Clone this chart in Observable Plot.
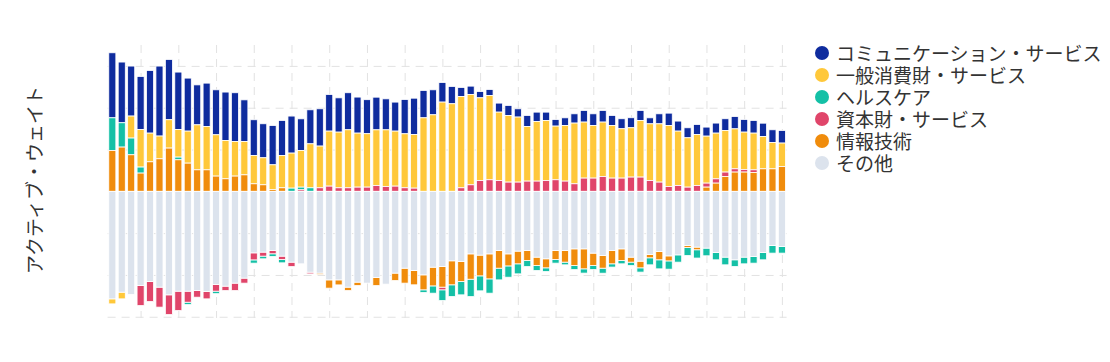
<!DOCTYPE html>
<html>
<head>
<meta charset="utf-8">
<script src="https://cdn.jsdelivr.net/npm/d3@7"></script>
<script src="https://cdn.jsdelivr.net/npm/@observablehq/plot@0.6"></script>
<style>
  html, body { margin: 0; padding: 0; background: #fff; }
  #wrap { position: relative; width: 1110px; height: 362px; font-family: "Noto Sans CJK JP", "Noto Sans", sans-serif; }
  #legend { position: absolute; left: 815px; top: 42px; font-size: 19px; line-height: 22px; color: #333; }
  .row { display: flex; align-items: center; height: 22px; line-height: 22px; white-space: nowrap; overflow: visible; }
  .sw { width: 14px; height: 14px; border-radius: 50%; margin-right: 7px; flex: none; }
  .lab { display: inline-block; height: 20px; line-height: 20px; overflow: visible; }
</style>
</head>
<body>
<div id="wrap"><div id="legend"></div></div>
<script>
// Series names (legend order) and colours
const sectors = ["コミュニケーション・サービス", "一般消費財・サービス", "ヘルスケア", "資本財・サービス", "情報技術", "その他"];
const colors  = ["#0f2c9e", "#ffc83a", "#14c0a6", "#e0456a", "#f08c0c", "#dce3ed"];
// stacking order from the zero line outward
const stackOrder = ["その他", "情報技術", "資本財・サービス", "ヘルスケア", "一般消費財・サービス", "コミュニケーション・サービス"];

// Active weights per period (72 monthly bars)
const comm = [7.78,7.26,5.98,6.34,7.49,8.37,7.21,6.87,6.34,4.78,5.19,5.38,5.79,5.83,4.99,4.27,4.07,4.70,4.19,4.43,
  3.79,4.07,4.46,4.38,4.10,4.43,4.31,4.07,3.91,3.71,3.47,4.10,4.35,3.27,2.99,2.34,2.07,1.08,1.00,0.75,
  0.72,1.08,1.20,0.99,1.32,1.12,1.00,0.79,0.92,1.11,1.39,1.40,1.39,1.20,1.20,1.20,1.20,0.72,1.20,1.48,
  1.20,1.20,1.20,1.08,1.20,1.40,1.47,1.51,1.51,1.60,1.52,1.51];
const consumer = [-0.60,-0.80,2.63,4.50,3.43,2.72,3.39,3.30,3.83,5.38,5.18,4.94,4.58,4.14,3.98,3.39,3.23,2.95,3.86,4.19,
  4.38,5.26,4.99,6.58,6.66,6.94,6.46,6.39,6.66,6.78,6.58,6.46,6.41,8.79,9.15,10.67,10.47,10.92,10.80,9.89,
  10.08,8.18,7.97,7.78,6.53,7.13,7.18,6.42,6.65,7.26,6.70,6.29,6.51,6.29,5.90,5.90,6.77,6.78,6.97,7.30,
  6.51,5.90,6.10,5.62,5.47,4.98,4.78,4.47,4.39,3.86,3.15,2.80];
const health = [3.91,2.91,2.00,0.72,0,0,0,0.32,-0.29,0,0,-0.30,0,0,0,-0.39,-0.32,-0.32,-0.39,0.38,
  0.32,0.42,0,0,0,0,0,0,0,0,0,0,0,-0.32,-0.87,-1.28,-1.40,-1.59,-2.08,-1.79,
  -1.71,-1.40,-1.35,-1.20,-0.72,-0.60,-0.44,-0.43,-0.32,-0.48,-0.51,-0.48,-0.60,-0.39,-0.39,-0.41,-0.51,-0.84,-1.08,-0.99,
  -0.87,-0.96,-0.99,-0.92,-0.87,-0.92,-0.80,-0.80,-0.79,-0.87,-0.91,-0.79];
const capital = [0,0,0,-2.39,-2.39,-2.39,-2.36,-2.32,-1.32,-0.79,-0.87,-0.79,-0.53,-0.89,-0.60,-0.84,-0.48,-0.39,-0.41,-0.53,
  0.18,-0.20,0.42,0.62,0.42,0.42,0.50,0.50,0.69,0.57,0.62,0.42,0.38,0,0,-0.32,0,0.42,0.78,1.29,
  1.38,1.29,1.10,1.10,1.22,1.22,1.29,1.38,1.22,0.90,1.58,1.58,1.77,1.58,1.58,1.70,1.70,1.29,1.10,0.57,
  0.69,0.50,0.69,0.48,0.51,0.53,0.39,0.31,0.32,0,0,0];
const it = [4.88,5.29,4.37,2.18,3.53,3.89,5.17,3.77,3.37,2.57,2.57,1.82,1.50,1.82,1.97,0.90,0.78,0.22,0.42,0,
  0,0,-0.18,-0.99,-0.60,-0.41,-0.41,0,-0.96,0,-0.89,-1.79,-1.71,-1.79,-2.24,-2.46,-2.87,-2.39,-3.03,-2.48,
  -2.99,-2.11,-1.44,-1.52,-1.20,-1.00,-1.08,-1.08,-1.39,-2.00,-2.39,-1.48,-1.51,-1.59,-1.40,-0.60,-0.80,-0.39,-0.99,-0.60,
  0,-0.24,-0.32,0.50,0.98,1.77,2.30,2.30,2.25,2.69,2.69,2.97];
const other = [-12.86,-12.06,-12.34,-11.27,-10.79,-11.46,-12.38,-11.94,-11.94,-11.87,-11.99,-11.15,-11.34,-10.98,-10.38,-7.36,-7.27,-7.08,-7.75,-8.47,
  -8.67,-9.67,-9.78,-10.59,-10.59,-11.46,-10.86,-10.98,-10.31,-11.10,-9.78,-9.19,-9.47,-9.99,-9.07,-9.00,-8.31,-8.40,-7.48,-7.63,
  -7.48,-7.08,-7.48,-7.15,-7.08,-7.87,-8.07,-7.08,-7.08,-6.88,-6.88,-7.39,-7.68,-7.08,-6.88,-7.87,-8.35,-7.56,-7.20,-7.72,
  -7.60,-6.48,-6.67,-6.79,-7.32,-7.87,-8.19,-7.87,-7.80,-7.32,-6.48,-6.60];

const periods = d3.range(comm.length);
const gridPeriods = periods.filter(i => i % 4 === 3);
const yTicks = [-15, -10, -5, 0, 5, 10, 15];
const yLabel = "アクティブ・ウェイト";

const seriesValues = [comm, consumer, health, capital, it, other];
const table = [];
sectors.forEach((s, k) => {
  seriesValues[k].forEach((v, i) => { if (v !== 0) table.push({period: i, sector: s, value: v}); });
});

const chart = Plot.plot({
  width: 1110,
  height: 362,
  marginLeft: 107.6,
  marginRight: 323.4,
  marginTop: 45,
  marginBottom: 44,
  style: {fontFamily: "'Noto Sans CJK JP', sans-serif", background: "transparent"},
  x: {type: "band", domain: periods, paddingInner: 0.25, paddingOuter: 0.125, axis: null},
  y: {domain: [-15.15, 17.5], axis: null},
  color: {domain: sectors, range: colors},
  marks: [
    Plot.ruleY(yTicks.filter(d => d !== 0), {stroke: "#e2e2e2", strokeWidth: 1, strokeDasharray: "8,6"}),
    Plot.ruleX(gridPeriods, {stroke: "#e2e2e2", strokeWidth: 1, strokeDasharray: "8,6"}),
    Plot.barY(table, {x: "period", y: "value", fill: "sector", order: stackOrder, stroke: "white", strokeWidth: 0.8}),
    Plot.text([yLabel], {frameAnchor: "left", textAnchor: "middle", lineAnchor: "middle", rotate: -90, dx: -72.6, dy: -2, fontSize: 19, fill: "#333"})
  ]
});
document.getElementById("wrap").prepend(chart);

const legend = d3.select("#legend");
sectors.forEach((s, k) => {
  const row = legend.append("div").attr("class", "row");
  row.append("span").attr("class", "sw").style("background", colors[k]);
  row.append("span").attr("class", "lab").text(s);
});
</script>
</body>
</html>
